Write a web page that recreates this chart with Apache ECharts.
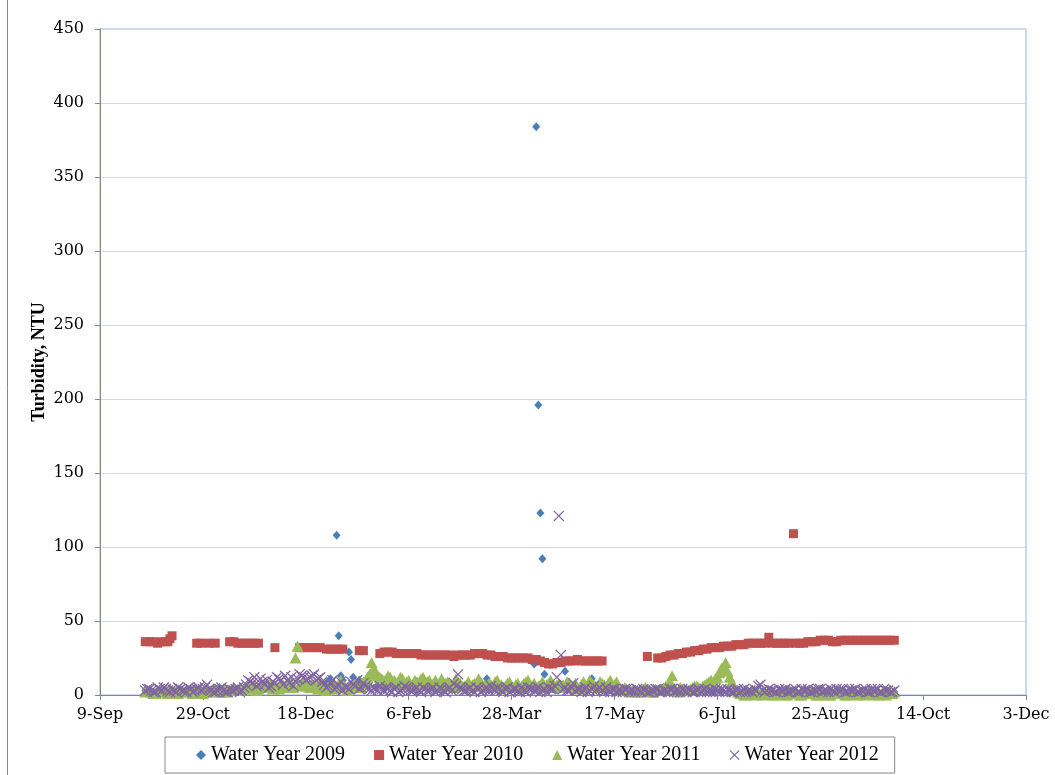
<!DOCTYPE html>
<html>
<head>
<meta charset="utf-8">
<title>Turbidity by water year</title>
<script src="https://cdn.jsdelivr.net/npm/echarts@6/dist/echarts.min.js"></script>
<style>
  html, body { margin: 0; padding: 0; background: #fff; }
  #chart { width: 1055px; height: 775px; }
</style>
</head>
<body>
<div id="chart"></div>
<script>
// x = days since 9-Sep (axis origin), y = turbidity in NTU
var seriesNames = ['Water Year 2009', 'Water Year 2010', 'Water Year 2011', 'Water Year 2012'];
var seriesColors = ['#4A7EBB', '#C0504D', '#9BBB59', '#8064A2'];
var xTicks = [0, 50, 100, 150, 200, 250, 300, 350, 400, 450];
var yTicks = [0, 50, 100, 150, 200, 250, 300, 350, 400, 450];

var wy2009 = [
  [22,3],[26,2],[30,4],[34,3],[38,2],[42,3],[46,4],[50,2],[54,3],[58,5],[62,3],[66,2],
  [70,4],[74,3],[78,5],[82,4],[86,3],[90,6],[94,4],[98,5],[102,7],[106,6],[110,8],[112,11],
  [115,108],[116,40],[117,13],[118,10],[121,29],[122,24],[123,12],[124,9],[126,10],[128,8],
  [130,6],[134,5],[138,4],[142,6],[146,5],[150,4],[154,3],[158,5],[162,4],[166,3],[170,4],
  [174,5],[178,3],[182,4],[188,11],[190,4],[194,3],[198,5],[202,4],[206,3],[211,21],
  [212,384],[213,196],[214,123],[215,92],[216,14],[218,8],[220,5],[222,4],[226,16],[230,5],
  [234,4],[239,11],[242,4],[246,3],[250,2],[254,3],[258,2],[262,3],[266,2],[270,3],[274,2],
  [278,3],[282,2],[286,3],[290,2],[294,3],[298,2],[302,3],[306,2],[310,3],[314,2],[318,3],
  [322,2],[326,3],[330,2],[334,3],[338,2],[342,3],[346,2],[350,3],[354,2],[358,3],[362,2],
  [366,3],[370,2],[374,3],[378,2],[382,3],[386,2]
];

var wy2010 = [
  [22,36],[24,36],[26,36],[28,35],[30,36],[32,36],[33,36],[34,38],[35,40],
  [47,35],[49,35],[53,35],[56,35],
  [63,36],[65,36],[67,35],[69,35],[71,35],[73,35],[75,35],[77,35],
  [85,32],
  [97,32],[99,32],[101,32],[103,32],[105,32],[107,32],
  [110,31],[112,31],[114,31],[116,31],[118,31],
  [126,30],[128,30],
  [136,28],[138,29],[140,29],[142,29],[144,28],[146,28],[148,28],[150,28],[152,28],[154,28],
  [156,27],[158,27],[160,27],[162,27],[164,27],[166,27],[168,27],[170,27],[172,26],[174,27],
  [176,27],[178,27],[180,27],[182,28],[184,28],[186,28],[188,27],[190,27],[192,26],[194,26],
  [196,26],[198,25],[200,25],[202,25],[204,25],[206,25],[208,25],[210,24],[212,24],[214,23],
  [216,22],[218,21],[220,21],[222,22],[224,22],[226,23],[228,23],[230,23],[232,24],[234,23],
  [236,23],[238,23],[240,23],[242,23],[244,23],
  [266,26],
  [271,25],[273,25],[275,26],[277,27],[279,27],[281,28],[283,28],[285,29],[287,29],[289,30],
  [291,30],[293,31],[295,31],[297,32],[299,32],[301,32],[303,33],[305,33],[307,33],[309,34],
  [311,34],[313,34],[315,35],[317,35],[319,35],[321,35],[323,35],[325,39],[327,35],[329,35],
  [331,35],[333,35],[335,35],[337,109],[338,35],[340,35],[342,35],[344,36],[346,36],[348,36],
  [350,37],[352,37],[354,37],[356,36],[358,36],[360,37],[362,37],[364,37],[366,37],[368,37],
  [370,37],[372,37],[374,37],[376,37],[378,37],[380,37],[382,37],[384,37],[386,37]
];

var wy2011 = [
  [22,2],[24,3],[26,1],[28,2],[30,3],[32,2],[34,4],[36,2],[38,1],[40,3],[42,2],[44,4],
  [46,2],[48,3],[50,1],[52,2],[54,3],[56,4],[58,2],[60,3],[62,2],[64,4],[66,3],[68,5],
  [70,4],[72,6],[74,5],[76,3],[78,5],[80,7],[82,6],[84,4],[86,5],[88,8],[90,6],[92,7],
  [94,5],[95,25],[96,33],[98,6],[100,8],[102,5],[104,7],[106,4],[108,6],[110,3],[112,5],
  [114,4],[116,7],[118,5],[120,3],[122,6],[124,8],[126,5],[128,9],[130,12],[132,22],
  [133,18],[134,15],[136,12],[138,10],[140,13],[142,9],[144,8],[146,12],[148,7],[150,10],
  [152,6],[154,9],[156,11],[158,7],[160,10],[162,8],[164,6],[166,11],[168,8],[170,7],
  [172,5],[174,9],[176,6],[178,7],[180,5],[182,8],[184,11],[186,6],[188,5],[190,7],[192,9],
  [194,6],[196,5],[198,8],[200,6],[202,7],[204,5],[206,8],[208,10],[210,6],[212,5],[214,7],
  [216,6],[218,8],[220,5],[222,7],[224,6],[226,5],[228,8],[230,6],[232,4],[234,7],[236,5],
  [238,10],[240,7],[242,5],[244,8],[246,6],[248,10],[250,7],[252,5],[254,3],[256,4],[258,2],
  [260,3],[262,2],[264,4],[266,3],[268,2],[270,4],[272,3],[274,5],[278,13],[280,3],[282,5],
  [284,4],[286,3],[288,5],[290,6],[292,4],[294,7],[296,9],[298,8],[300,12],[301,15],
  [302,18],[304,22],[305,16],[306,12],[307,9],[308,4],[310,2],[312,1],[314,0],[316,1],
  [318,2],[320,1],[322,0],[324,1],[326,1],[328,0],[330,2],[332,1],[334,0],[336,1],[338,1],
  [340,0],[342,1],[344,2],[346,1],[348,0],[350,1],[352,1],[354,0],[356,1],[358,2],[360,1],
  [362,0],[364,1],[366,1],[368,0],[370,1],[372,2],[374,1],[376,0],[378,1],[380,1],[382,0],
  [384,1],[386,2],
  // odd days
  [23,3],[25,2],[27,1],[29,3],[31,2],[33,1],[35,3],[37,2],[39,4],[41,2],[43,3],[45,1],
  [47,2],[49,4],[51,3],[53,2],[55,4],[57,3],[59,2],[61,4],[63,3],[65,5],[67,4],[69,3],
  [71,5],[73,4],[75,6],[77,4],[79,6],[81,5],[83,7],[85,6],[87,4],[89,7],[91,5],[93,8],
  [97,7],[99,10],[101,6],[103,8],[105,5],[107,9],[109,4],[111,6],[113,8],[115,5],[117,10],
  [119,6],[121,4],[123,7],[125,6],[127,8],[129,10],[131,14],[135,13],[137,11],[139,9],
  [141,12],[143,10],[145,8],[147,11],[149,9],[151,7],[153,10],[155,8],[157,12],[159,9],
  [161,7],[163,10],[165,8],[167,6],[169,9],[171,7],[173,11],[175,8],[177,6],[179,9],
  [181,7],[183,6],[185,9],[187,7],[189,8],[191,6],[193,10],[195,7],[197,6],[199,9],[201,5],
  [203,8],[205,6],[207,9],[209,7],[211,8],[213,6],[215,9],[217,7],[219,10],[221,6],[223,8],
  [225,7],[227,9],[229,6],[231,8],[233,5],[235,9],[237,7],[239,8],[241,6],[243,9],[245,7],
  [247,8],[249,6],[251,9],[253,4],[255,5],[257,3],[259,4],[261,2],[263,3],[265,5],[267,3],
  [269,2],[271,3],[273,4],[275,6],[277,9],[279,4],[281,2],[283,4],[285,3],[287,4],[289,6],
  [291,5],[293,6],[295,8],[297,10],[299,11],[303,19],[309,3],[311,1],[313,0],[315,1],
  [317,2],[319,0],[321,1],[323,2],[325,1],[327,0],[329,1],[331,2],[333,0],[335,1],[337,2],
  [339,1],[341,0],[343,1],[345,2],[347,1],[349,0],[351,2],[353,1],[355,0],[357,1],[359,2],
  [361,1],[363,0],[365,1],[367,2],[369,1],[371,0],[373,1],[375,2],[377,1],[379,0],[381,1],
  [383,2],[385,1]
];

var wy2012 = [
  [22,3],[24,4],[26,2],[28,5],[30,3],[32,4],[34,2],[36,3],[38,5],[40,3],[42,2],[44,4],
  [46,3],[48,5],[50,4],[52,7],[54,3],[56,2],[58,4],[60,3],[62,2],[64,3],[66,4],[68,2],
  [70,5],[72,10],[74,8],[76,6],[78,11],[80,7],[82,5],[84,9],[86,12],[88,10],[90,13],[92,8],
  [94,6],[96,11],[98,13],[100,10],[102,12],[104,14],[106,11],[108,9],[110,5],[112,8],
  [114,4],[116,7],[118,3],[120,5],[122,9],[124,6],[126,4],[128,8],[130,5],[132,3],[134,4],
  [136,6],[138,3],[140,4],[142,2],[144,5],[146,3],[148,6],[150,4],[152,3],[154,5],[156,2],
  [158,4],[160,3],[162,5],[164,3],[166,4],[168,2],[170,5],[172,8],[174,14],[176,4],[178,3],
  [180,5],[182,2],[184,4],[186,3],[188,5],[190,6],[192,3],[194,4],[196,2],[198,5],[200,3],
  [202,4],[204,2],[206,3],[208,5],[210,4],[212,3],[214,2],[216,4],[218,5],[220,4],[222,12],
  [223,121],[224,27],[226,5],[228,3],[230,8],[232,4],[234,2],[236,5],[238,3],[240,6],[242,4],
  [244,3],[246,5],[248,2],[250,4],[252,3],[254,2],[256,4],[258,3],[260,2],[262,3],[264,4],
  [266,2],[268,3],[270,4],[272,2],[274,3],[276,2],[278,4],[280,3],[282,2],[284,3],[286,4],
  [288,2],[290,3],[292,2],[294,4],[296,3],[298,2],[300,3],[302,4],[304,2],[306,3],[308,2],
  [310,4],[312,3],[314,2],[316,3],[318,4],[320,6],[322,3],[324,3],[326,3],[328,2],[330,4],
  [332,3],[334,2],[336,3],[338,4],[340,2],[342,3],[344,4],[346,2],[348,3],[350,4],[352,3],
  [354,2],[356,3],[358,4],[360,3],[362,2],[364,4],[366,3],[368,2],[370,3],[372,4],[374,2],
  [376,3],[378,4],[380,2],[382,3],[384,2],[386,3],
  // odd days
  [23,4],[25,3],[27,2],[29,4],[31,5],[33,3],[35,4],[37,2],[39,4],[41,3],[43,5],[45,2],
  [47,4],[49,3],[51,5],[53,4],[55,2],[57,3],[59,5],[61,2],[63,4],[65,3],[67,5],[69,3],
  [71,7],[73,9],[75,12],[77,7],[79,9],[81,10],[83,6],[85,8],[87,11],[89,7],[91,10],[93,12],
  [95,9],[97,14],[99,12],[101,11],[103,13],[105,10],[107,12],[109,7],[111,6],[113,10],
  [115,5],[117,9],[119,6],[121,4],[123,7],[125,10],[127,5],[129,6],[131,4],[133,5],[135,3],
  [137,4],[139,5],[141,3],[143,4],[145,2],[147,4],[149,5],[151,3],[153,4],[155,3],[157,5],
  [159,3],[161,4],[163,2],[165,5],[167,3],[169,4],[171,3],[173,6],[175,5],[177,3],[179,4],
  [181,3],[183,5],[185,2],[187,4],[189,3],[191,4],[193,5],[195,3],[197,4],[199,2],[201,4],
  [203,3],[205,5],[207,2],[209,4],[211,3],[213,5],[215,3],[217,2],[219,4],[221,6],[225,4],
  [227,3],[229,5],[231,3],[233,4],[235,3],[237,2],[239,4],[241,3],[243,5],[245,2],[247,3],
  [249,4],[251,2],[253,3],[255,4],[257,2],[259,3],[261,4],[263,2],[265,3],[267,2],[269,3],
  [271,4],[273,2],[275,3],[277,4],[279,2],[281,3],[283,4],[285,2],[287,3],[289,2],[291,4],
  [293,3],[295,2],[297,3],[299,4],[301,2],[303,3],[305,4],[307,2],[309,3],[311,2],[313,4],
  [315,3],[317,2],[319,3],[321,7],[323,2],[325,4],[327,3],[329,2],[331,3],[333,4],[335,2],
  [337,3],[339,2],[341,4],[343,3],[345,2],[347,3],[349,4],[351,2],[353,3],[355,4],[357,2],
  [359,3],[361,4],[363,2],[365,3],[367,4],[369,2],[371,3],[373,2],[375,4],[377,3],[379,2],
  [381,4],[383,3],[385,2]
];

var MONTHS = ['Jan','Feb','Mar','Apr','May','Jun','Jul','Aug','Sep','Oct','Nov','Dec'];
function dayLabel(v) {
  var d = new Date(2008, 8, 9 + v);
  return d.getDate() + '-' + MONTHS[d.getMonth()];
}

var crossPath = 'path://M0,0.8L0.8,0L5,4.2L9.2,0L10,0.8L5.8,5L10,9.2L9.2,10L5,5.8L0.8,10L0,9.2L4.2,5Z';
var symbols = ['diamond', 'rect', 'triangle', crossPath];
var symbolSizes = [[8, 9], 9, [12, 11], 11];
var allData = [wy2009, wy2010, wy2011, wy2012];

var serif = 'DejaVu Serif';
var chart = echarts.init(document.getElementById('chart'));

var option = {
  animation: false,
  backgroundColor: '#fff',
  grid: {
    left: 100, right: 29, top: 29, bottom: 80,
    show: true, borderColor: '#8EB4E3', borderWidth: 1
  },
  xAxis: {
    type: 'value',
    min: xTicks[0], max: xTicks[xTicks.length - 1], interval: 50,
    axisLine: { onZero: false, lineStyle: { color: '#868686' } },
    axisTick: { show: true, inside: false, length: 5, lineStyle: { color: '#868686' } },
    splitLine: { show: false },
    axisLabel: { formatter: dayLabel, fontFamily: serif, fontSize: 16, color: '#000', margin: 12 }
  },
  yAxis: {
    type: 'value',
    min: yTicks[0], max: yTicks[yTicks.length - 1], interval: 50,
    name: 'Turbidity, NTU',
    nameLocation: 'middle', nameGap: 52, nameMoveOverlap: false,
    nameTextStyle: { fontFamily: 'Liberation Serif', fontWeight: 'bold', fontSize: 18, color: '#000' },
    axisLine: { show: true, lineStyle: { color: '#868686' } },
    axisTick: { show: true, length: 5, lineStyle: { color: '#868686' } },
    splitLine: { lineStyle: { color: '#D9D9D9' } },
    axisLabel: { fontFamily: serif, fontSize: 16, color: '#000', margin: 16 }
  },
  legend: {
    left: 165, top: 737,
    padding: [8, 16, 8, 31],
    borderColor: '#888', borderWidth: 1,
    itemGap: 29, itemWidth: 10, itemHeight: 10,
    textStyle: { fontFamily: 'Liberation Serif', fontSize: 20, color: '#000' },
    data: seriesNames.map(function (n, i) { return { name: n, icon: symbols[i] }; })
  },
  graphic: [{
    type: 'line', silent: true,
    shape: { x1: 7.5, y1: 0, x2: 7.5, y2: 775 },
    style: { stroke: '#888', lineWidth: 1 }
  }],
  series: allData.map(function (d, i) {
    return {
      name: seriesNames[i],
      type: 'scatter',
      symbol: symbols[i],
      symbolSize: symbolSizes[i],
      itemStyle: { color: seriesColors[i], opacity: 1 },
      data: d
    };
  })
};
chart.setOption(option);
</script>
</body>
</html>
